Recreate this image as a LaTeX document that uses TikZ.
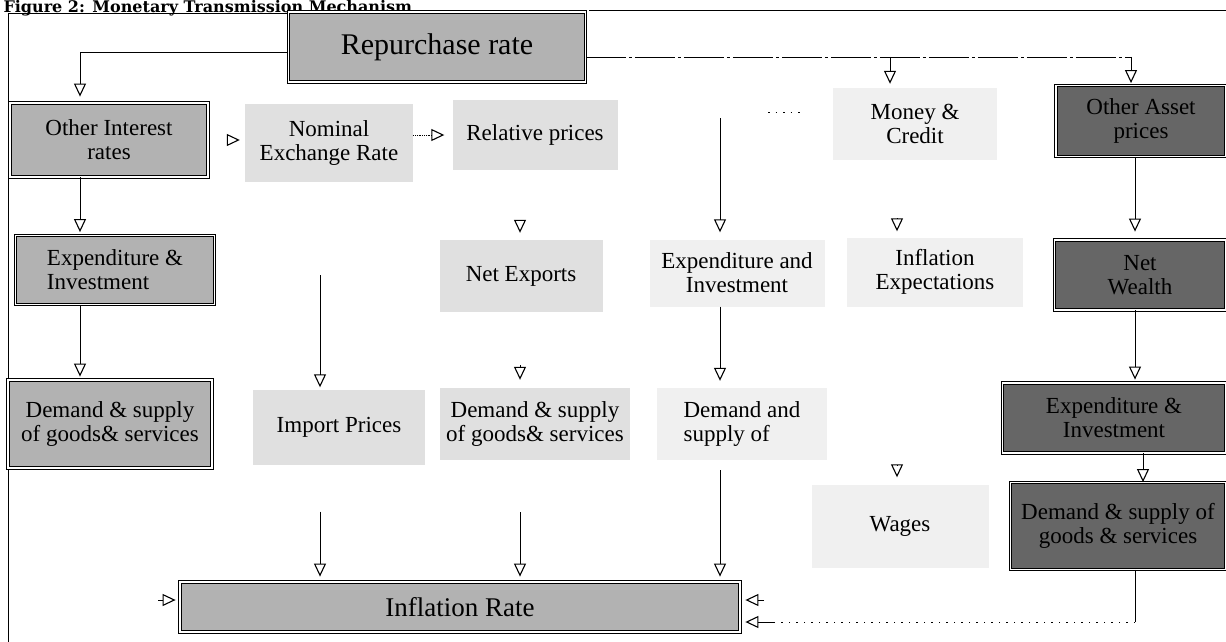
\documentclass[tikz,border=0pt]{standalone}
\usepackage{fontspec}
\setmainfont{Liberation Serif}
\newfontfamily\ttlfont{DejaVu Serif}
\usetikzlibrary{arrows.meta}

\begin{document}
\begin{tikzpicture}[x=1pt, y=-1pt]
    \tikzset{
        txt/.style={inner sep=0pt, align=center, font=\fontsize{23}{24}\selectfont},
        medbox/.style={txt, draw, double, double distance=1.6pt, line width=0.8pt, fill=black!30},
        darkbox/.style={txt, draw, double, double distance=1.6pt, line width=0.8pt, fill=black!60},
        lightbox/.style={txt, fill=black!12},
        palebox/.style={txt, fill=black!6},
        tri/.style={-{Triangle[open, width=12pt, length=13pt, line width=1.1pt]}, line width=0.8pt},
        sparse/.style={line width=0.8pt, dash pattern=on 1.5pt off 6pt}
    }
    \useasboundingbox (0,0) rectangle (1226,642);
    \draw[line width=1pt] (289,14) -- (8,14) -- (8,642);
    \draw[line width=1pt] (589,11) -- (1226,11);
    \node[anchor=base west, font=\ttlfont\bfseries\fontsize{16}{18}\selectfont] (ttl) at (0,12.5) {Figure 2: Monetary Transmission Mechanism};

    \node[medbox, minimum width=297pt, minimum height=70pt, font=\fontsize{30}{32}\selectfont] (rep) at (437,47) {Repurchase rate};

    \node[medbox, minimum width=198pt, minimum height=74pt] (oir) at (109,140) {Other Interest\\rates};
    \node[lightbox, minimum width=168pt, minimum height=78pt] (nom) at (329,143) {Nominal\\Exchange Rate};
    \node[lightbox, minimum width=165pt, minimum height=70pt] (rel) at (535,135) {Relative prices};
    \node[palebox, minimum width=164pt, minimum height=72pt] (mon) at (915,124) {Money \&\\Credit};
    \node[darkbox, minimum width=170pt, minimum height=71pt] (oap) at (1141,121) {Other Asset\\prices};

    \node[medbox, minimum width=199pt, minimum height=69pt, align=left] (exl) at (115,270) {Expenditure \&\\Investment};
    \node[lightbox, minimum width=163pt, minimum height=72pt] (netx) at (521,276) {Net Exports};
    \node[palebox, minimum width=175pt, minimum height=67pt] (exm) at (737,273) {Expenditure and\\Investment};
    \node[palebox, minimum width=176pt, minimum height=69pt] (iexp) at (935,272) {Inflation\\Expectations};
    \node[darkbox, minimum width=171pt, minimum height=70pt] (nw) at (1140,275) {Net\\Wealth};

    \node[medbox, minimum width=204pt, minimum height=88pt] (dsl) at (110,424) {Demand \& supply\\of goods\& services};
    \node[lightbox, minimum width=172pt, minimum height=75pt] (imp) at (339,427) {Import Prices};
    \node[lightbox, minimum width=190pt, minimum height=72pt] (dsm) at (535,424) {Demand \& supply\\of goods\& services};
    \node[palebox, minimum width=170pt, minimum height=72pt, align=left] (dam) at (742,424) {Demand and\\supply of};
    \node[darkbox, minimum width=223pt, minimum height=70pt] (exr) at (1114,418) {Expenditure \&\\Investment};

    \node[palebox, minimum width=177pt, minimum height=83pt] (wag) at (900,526) {Wages};
    \node[darkbox, minimum width=215pt, minimum height=87pt] (dsr) at (1118,526) {Demand \& supply of\\goods \& services};

    \node[medbox, minimum width=560pt, minimum height=50pt, font=\fontsize{27}{29}\selectfont] (infl) at (460,607) {Inflation Rate};

    \coordinate (ca) at (80,0);
    \coordinate (cb) at (320,0);
    \coordinate (cc) at (520,0);
    \coordinate (cd) at (720,118);
    \coordinate (ce) at (897,0);
    \coordinate (cf) at (1135,0);
    \coordinate (cg) at (1143,0);
    \coordinate (jm) at (890,57);
    \coordinate (jr) at (1131,57);
    \coordinate (cr) at (1135,622);
    \coordinate (lf) at (158,600);
    \coordinate (rt) at (764,600);

    \draw[tri, shorten >=6pt] ([yshift=-5pt]rep.west) -| (ca |- oir.north);
    \draw[line width=0.8pt, dash pattern=on 40pt off 3pt on 3pt off 3pt] ([yshift=-10pt]rep.east) -- (jr);
    \draw[tri, shorten >=4pt] (jm) -- (jm |- mon.north);
    \draw[tri, shorten >=2pt] (jr) -- (jr |- oap.north);

    \draw[tri, shorten >=3pt] (ca |- oir.south) -- (ca |- exl.north);
    \draw[tri, shorten >=3pt] (ca |- exl.south) -- (ca |- dsl.north);

    \draw[tri, shorten <=19pt, shorten >=5pt] (oir.east) -- (oir.east -| nom.west);
    \draw[tri, densely dotted, shorten >=8pt] (nom.east |- rel.west) -- (rel.west);
    \draw[sparse] (768,112) -- (800,112);

    \draw[tri, shorten <=93pt, shorten >=2pt] (cb |- nom.south) -- (cb |- imp.north);
    \draw[tri, shorten <=47pt, shorten >=5pt] (cb |- imp.south) -- (cb |- infl.north);

    \draw[tri, shorten <=50pt, shorten >=7pt] (cc |- rel.south) -- (cc |- netx.north);
    \draw[tri, shorten <=53pt, shorten >=8pt] (cc |- netx.south) -- (cc |- dsm.north);
    \draw[tri, shorten <=52pt, shorten >=5pt] (cc |- dsm.south) -- (cc |- infl.north);

    \draw[tri, shorten >=7pt] (cd) -- (cd |- exm.north);
    \draw[tri, shorten >=7pt] (cd |- exm.south) -- (cd |- dam.north);
    \draw[tri, shorten <=10pt, shorten >=5pt] (cd |- dam.south) -- (cd |- infl.north);

    \draw[tri, shorten <=58pt, shorten >=6pt] (ce |- mon.south) -- (ce |- iexp.north);
    \draw[tri, shorten <=158pt, shorten >=7pt] (ce |- iexp.south) -- (ce |- wag.north);

    \draw[tri, shorten >=8pt] (cf |- oap.south) -- (cf |- nw.north);
    \draw[tri, shorten >=3pt] (cf |- nw.south) -- (cf |- exr.north);
    \draw[tri] (cg |- exr.south) -- (cg |- dsr.north);
    \draw[line width=0.8pt] (cf |- dsr.south) -- (cr);
    \draw[sparse] (cr) -- (774,622);
    \draw[tri, shorten >=5pt] (774,622) -- (cr -| infl.east);

    \draw[tri, shorten >=4pt] (lf) -- (lf -| infl.west);
    \draw[tri, shorten >=5pt] (rt) -- (rt -| infl.east);
\end{tikzpicture}
\end{document}
